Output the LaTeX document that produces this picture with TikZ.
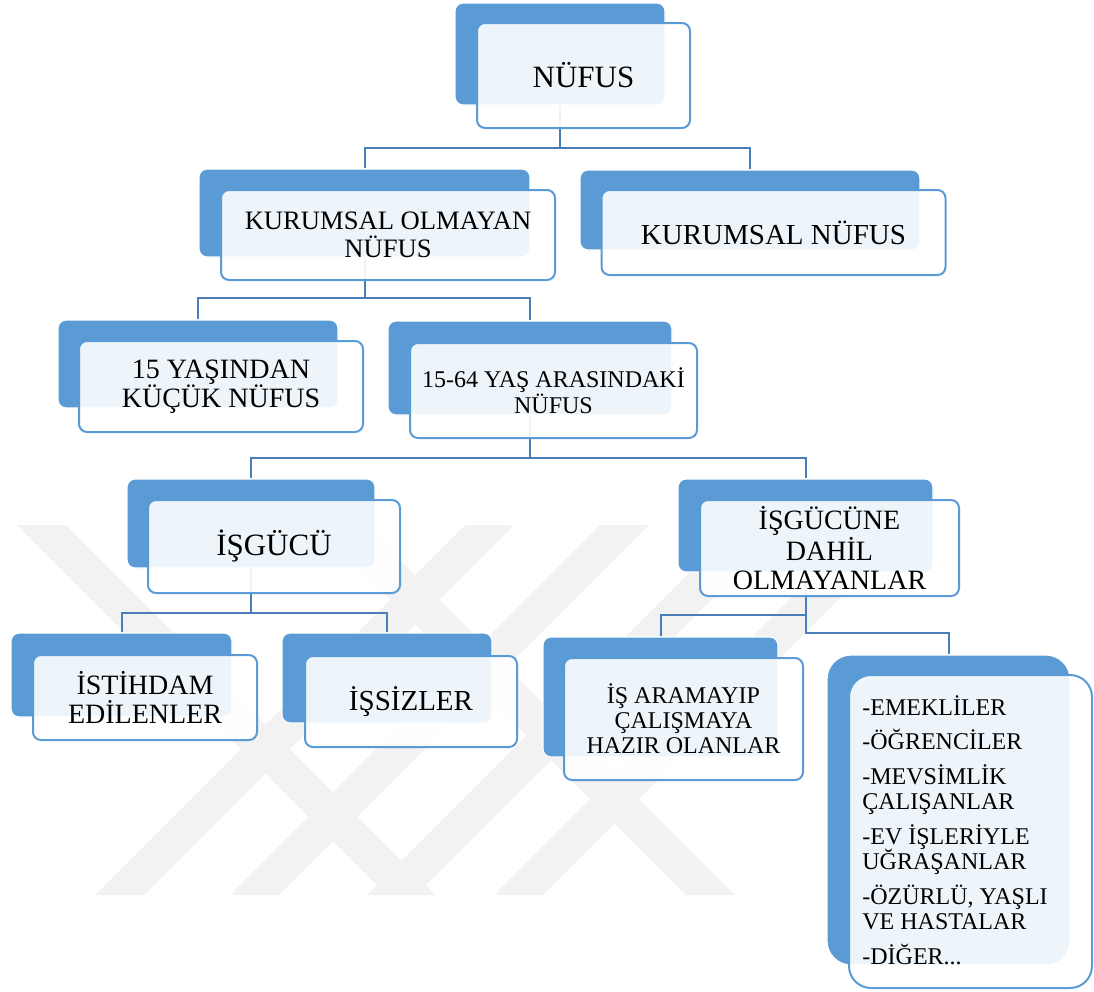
\documentclass[tikz,border=0pt]{standalone}
\usepackage{fontspec}
\setmainfont{Liberation Serif}
\usetikzlibrary{calc,positioning}
\definecolor{boxblue}{HTML}{5B9BD5}
\definecolor{linkblue}{HTML}{4A7EBB}
\definecolor{wmgray}{HTML}{F2F2F2}
\pgfdeclarelayer{wm}
\pgfdeclarelayer{links}
\pgfsetlayers{wm,links,main}

\begin{document}
\begin{tikzpicture}[x=0.5pt,y=-0.5pt,
  backbox/.style={fill=boxblue,draw=white,line width=0.6pt,rounded corners=4pt,inner sep=0pt},
  frontbox/.style={fill=white,fill opacity=0.9,text opacity=1,draw=boxblue,line width=1pt,
                   rounded corners=4pt,inner sep=0pt,align=center},
  link/.style={draw=linkblue,line width=1pt},
  band/.style={fill=wmgray}]
  \useasboundingbox (0,0) rectangle (1094,992);
  % watermark in the background
  \begin{pgfonlayer}{wm}
    \foreach \x in {95,230,367,494}
      \fill[band] (\x,895) -- ++(49,0) -- ++(370,-370) -- ++(-49,0) -- cycle;
    \fill[band] (17,525) -- ++(49,0) -- ++(370,370) -- ++(-49,0) -- cycle;
    \fill[band] (316,525) -- ++(49,0) -- ++(370,370) -- ++(-49,0) -- cycle;
  \end{pgfonlayer}
  % level 0
  \node[backbox,minimum width=105pt,minimum height=51pt] (nufusB) at (560,54) {};
  \node[frontbox,minimum width=106.5pt,minimum height=52.5pt,font=\fontsize{15.5}{17}\selectfont]
       (nufus) at (583.5,75.5) {NÜFUS};
  % level 1
  \node[backbox,minimum width=165.5pt,minimum height=44pt] (kobB) at (364.5,213) {};
  \node[frontbox,minimum width=167pt,minimum height=45pt,font=\fontsize{13.3}{14}\selectfont]
       (kob) at (388,235) {KURUMSAL OLMAYAN\\NÜFUS};
  \node[backbox,minimum width=170pt,minimum height=40pt] (knB) at (750,210) {};
  \node[frontbox,minimum width=172pt,minimum height=42.5pt,font=\fontsize{14.5}{16}\selectfont]
       (kn) at (773.5,232.5) {KURUMSAL NÜFUS};
  % level 2
  \node[backbox,minimum width=140pt,minimum height=44pt] (yasB) at (198,364) {};
  \node[frontbox,minimum width=142pt,minimum height=45.5pt,font=\fontsize{14}{14.5}\selectfont]
       (yas) at (221,386.5) {15 YAŞINDAN\\KÜÇÜK NÜFUS};
  \node[backbox,minimum width=142pt,minimum height=47pt] (araB) at (530,368) {};
  \node[frontbox,minimum width=143.5pt,minimum height=47.5pt,font=\fontsize{12}{12}\selectfont]
       (ara) at (553.5,390.5) {15-64 YAŞ ARASINDAKİ\\NÜFUS};
  % level 3
  \node[backbox,minimum width=124pt,minimum height=44.5pt] (isgB) at (251,523.5) {};
  \node[frontbox,minimum width=126pt,minimum height=46.5pt,font=\fontsize{15.5}{17}\selectfont]
       (isg) at (274,546.5) {İŞGÜCÜ};
  \node[backbox,minimum width=127.5pt,minimum height=46.5pt] (disB) at (805.5,525.5) {};
  \node[frontbox,minimum width=129.5pt,minimum height=48pt,font=\fontsize{14}{14.5}\selectfont]
       (dis) at (829.5,548) {İŞGÜCÜNE\\DAHİL\\OLMAYANLAR};
  % level 4
  \node[backbox,minimum width=110.5pt,minimum height=42pt] (istB) at (121.5,675) {};
  \node[frontbox,minimum width=112pt,minimum height=42.5pt,font=\fontsize{14}{14.75}\selectfont]
       (ist) at (145,697.5) {İSTİHDAM\\EDİLENLER};
  \node[backbox,minimum width=105pt,minimum height=45pt] (issB) at (387,678) {};
  \node[frontbox,minimum width=106pt,minimum height=45.5pt,font=\fontsize{14.5}{16}\selectfont]
       (iss) at (411,701.5) {İŞSİZLER};
  \node[backbox,minimum width=117.5pt,minimum height=60pt] (hazB) at (660.5,697) {};
  \node[frontbox,minimum width=119.5pt,minimum height=61pt,font=\fontsize{12}{12.5}\selectfont]
       (haz) at (683.5,719) {İŞ ARAMAYIP\\ÇALIŞMAYA\\HAZIR OLANLAR};
  \node[backbox,rounded corners=12pt,minimum width=121.5pt,minimum height=155pt] (lstB) at (948.5,810) {};
  \node[frontbox,rounded corners=11pt,minimum width=121.5pt,minimum height=156.5pt] (lst) at (970.5,831.5) {};
  \node[anchor=north west,inner sep=0pt,align=left,font=\fontsize{12}{12.75}\selectfont]
       (lsttxt) at (862,695) {-EMEKLİLER\\[4.5pt]-ÖĞRENCİLER\\[4.5pt]-MEVSİMLİK\\ÇALIŞANLAR\\[4.5pt]%
       -EV İŞLERİYLE\\UĞRAŞANLAR\\[4.5pt]-ÖZÜRLÜ, YAŞLI\\VE HASTALAR\\[4.5pt]-DİĞER...};
  % connectors under the boxes
  \begin{pgfonlayer}{links}
    \draw[link] (nufusB.south) -- (nufusB.south |- 0,148) coordinate (barA);
    \draw[link] (kobB.north) |- (barA) -| (knB.north);
    \draw[link] (kobB.south) -- (kobB.south |- 0,298) coordinate (barB);
    \draw[link] (yasB.north) |- (barB) -| (araB.north);
    \draw[link] (araB.south) -- (araB.south |- 0,458) coordinate (barC);
    \draw[link] (isgB.north) |- (barC) -| (disB.north);
    \draw[link] (isgB.south) -- (isgB.south |- 0,613) coordinate (barD);
    \draw[link] (istB.north) |- (barD) -| (issB.north);
    \draw[link] (disB.south) -- (disB.south |- 0,633) coordinate (barE) -| (lstB.north);
    \draw[link] (hazB.north) |- (disB.south |- 0,615);
  \end{pgfonlayer}
\end{tikzpicture}
\end{document}
